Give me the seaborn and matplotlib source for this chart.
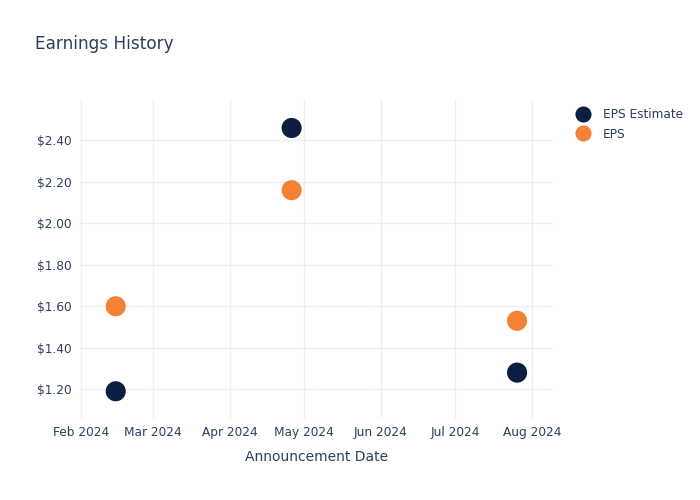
import matplotlib
matplotlib.use("Agg")
import matplotlib.pyplot as plt
import matplotlib.dates as mdates
import seaborn as sns
import pandas as pd
import numpy as np

dates = ["2024-02-15", "2024-04-26", "2024-07-26"]
eps_estimate = [1.19, 2.46, 1.28]
eps_actual = [1.60, 2.16, 1.53]
series_names = ["EPS Estimate", "EPS"]
colors = ["#0c1f40", "#f58234"]
ytick_vals = [1.2, 1.4, 1.6, 1.8, 2.0, 2.2, 2.4]
xtick_dates = ["2024-02-01", "2024-03-01", "2024-04-01", "2024-05-01",
               "2024-06-01", "2024-07-01", "2024-08-01"]

df = pd.DataFrame({
    "date": pd.to_datetime(dates * 2),
    "value": eps_estimate + eps_actual,
    "series": [series_names[0]] * 3 + [series_names[1]] * 3,
})

sns.set_theme(style="white")
plt.rcParams["font.family"] = ["DejaVu Sans"]
text_color = "#2a3f5f"

fig = plt.figure(figsize=(7, 5), dpi=100)
ax = fig.add_axes([80 / 700, 82 / 500, 473 / 700, 318 / 500])

sns.scatterplot(data=df, x="date", y="value", hue="series",
                hue_order=series_names, palette=colors, s=210,
                edgecolor="none", ax=ax, zorder=3, legend=True)

ax.set_ylim(1.061, 2.595)
ax.set_xlim(pd.Timestamp("2024-01-31 14:00"), pd.Timestamp("2024-08-09 12:00"))
ax.set_yticks(ytick_vals)
ax.set_yticklabels([f"${v:.2f}" for v in ytick_vals])
xt = pd.to_datetime(xtick_dates)
ax.set_xticks(xt)
ax.set_xticklabels([d.strftime("%b %Y") for d in xt])

ax.grid(True, color="#ebf0f8", linewidth=1)
ax.set_axisbelow(True)
for sp in ax.spines.values():
    sp.set_visible(False)
ax.tick_params(axis="both", length=0, labelsize=8.7, colors=text_color, pad=6)
ax.set_ylabel("")
ax.set_xlabel("Announcement Date", fontsize=10, color=text_color, labelpad=7.5)

fig.text(35 / 700, 1 - 44 / 500, "Earnings History", fontsize=12.2,
         color=text_color, va="center", ha="left")

leg = ax.legend(loc="upper left", bbox_to_anchor=(1.028, 0.989), frameon=False,
                fontsize=8.7, handletextpad=0.65, labelspacing=0.52,
                markerscale=0.8, borderaxespad=0)
for t in leg.get_texts():
    t.set_color(text_color)

fig.savefig("out.png", dpi=100, facecolor="white")
